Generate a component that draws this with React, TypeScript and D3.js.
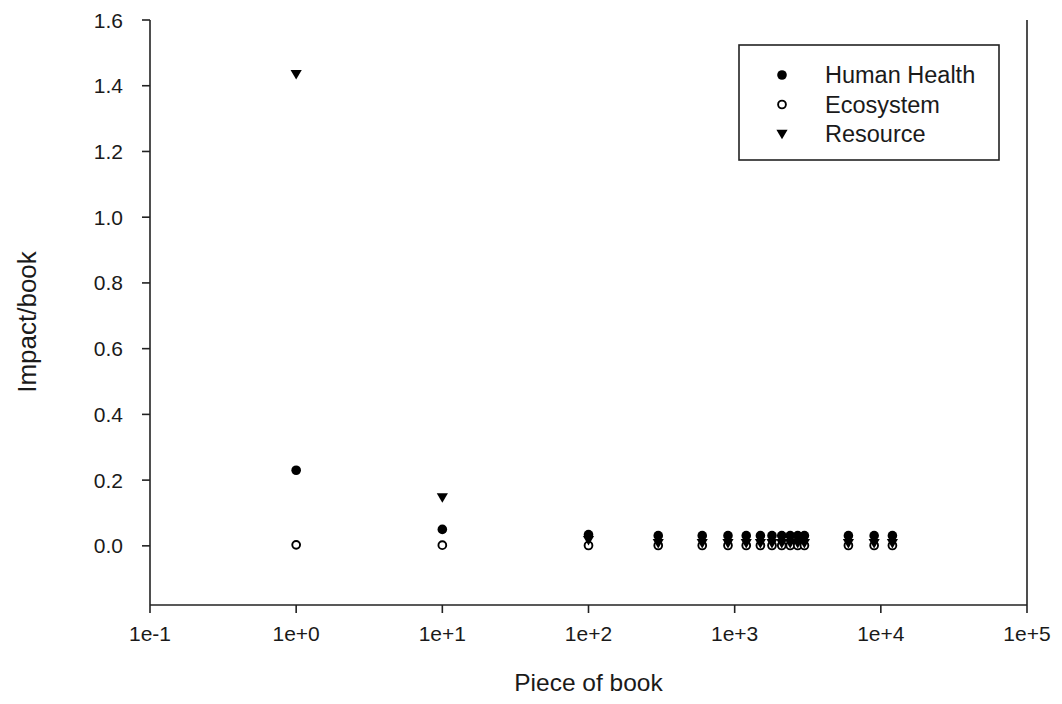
import React from "react";
import * as d3 from "d3";

const pieces = [1, 10, 100, 300, 600, 900, 1200, 1500, 1800, 2100, 2400, 2700, 3000, 6000, 9000, 12000];
const humanHealth = [0.23, 0.05, 0.034, 0.031, 0.031, 0.031, 0.031, 0.031, 0.031, 0.031, 0.031, 0.031, 0.031, 0.031, 0.031, 0.031];
const ecosystem = [0.003, 0.002, 0.001, 0.001, 0.001, 0.001, 0.001, 0.001, 0.001, 0.001, 0.001, 0.001, 0.001, 0.001, 0.001, 0.001];
const resource = [1.435, 0.147, 0.017, 0.008, 0.008, 0.008, 0.008, 0.008, 0.008, 0.008, 0.008, 0.008, 0.008, 0.008, 0.008, 0.008];
const xTicks = [1e-1, 1e0, 1e1, 1e2, 1e3, 1e4, 1e5];
const xTickLabels = ["1e-1", "1e+0", "1e+1", "1e+2", "1e+3", "1e+4", "1e+5"];
const yTicks = [0, 0.2, 0.4, 0.6, 0.8, 1.0, 1.2, 1.4, 1.6];
const seriesNames = ["Human Health", "Ecosystem", "Resource"];

const W = 1062, H = 704;
const L = 150, R = 1027, T = 20, B = 605;
const font = "'Liberation Sans', Arial, sans-serif";

function Marker({ kind, x, y }: { kind: number; x: number; y: number }) {
  if (kind === 0) return <circle cx={x} cy={y} r={4.8} fill="#000" />;
  if (kind === 1) return <circle cx={x} cy={y} r={3.9} fill="#fff" stroke="#000" strokeWidth={1.9} />;
  const s = 5.6;
  return <path d={`M${x - s},${y - s * 0.75} L${x + s},${y - s * 0.75} L${x},${y + s * 0.95} Z`} fill="#000" />;
}

export default function App() {
  const x = d3.scaleLog().domain([1e-1, 1e5]).range([L, R]);
  const y = d3.scaleLinear().domain([-0.18, 1.6]).range([B, T]);
  const series = [humanHealth, ecosystem, resource];
  const drawOrder = [1, 2, 0];
  return (
    <svg width={W} height={H} style={{ position: "absolute", left: 0, top: 0, background: "#fff" }} fontFamily={font}>
      <rect x={0} y={0} width={W} height={H} fill="#fff" />
      {/* axes */}
      <line x1={L} y1={T} x2={L} y2={B} stroke="#222" strokeWidth={1.6} />
      <line x1={L} y1={B} x2={R} y2={B} stroke="#222" strokeWidth={1.6} />
      <line x1={R} y1={T} x2={R} y2={B} stroke="#222" strokeWidth={1.6} />
      {yTicks.map((t) => (
        <g key={t}>
          <line x1={L - 8} x2={L} y1={y(t)} y2={y(t)} stroke="#222" strokeWidth={1.6} />
          <text x={L - 27} y={y(t)} dy="0.36em" textAnchor="end" fontSize={21} fill="#1a1a1a">
            {t.toFixed(1)}
          </text>
        </g>
      ))}
      {xTicks.map((t, i) => (
        <g key={t}>
          <line x1={x(t)} x2={x(t)} y1={B} y2={B + 8} stroke="#222" strokeWidth={1.6} />
          <text x={x(t)} y={B + 36} textAnchor="middle" fontSize={21} fill="#1a1a1a">
            {xTickLabels[i]}
          </text>
        </g>
      ))}
      <text x={(L + R) / 2} y={691} textAnchor="middle" fontSize={24.5} fill="#1a1a1a">
        Piece of book
      </text>
      <text transform={`translate(36,322) rotate(-90)`} textAnchor="middle" fontSize={26} fill="#1a1a1a">
        Impact/book
      </text>
      {/* points */}
      {drawOrder.map((k) =>
        pieces.map((p, i) => <Marker key={`${k}-${i}`} kind={k} x={x(p)} y={y(series[k][i])} />)
      )}
      {/* legend */}
      <rect x={739} y={45} width={260} height={115} fill="#fff" stroke="#222" strokeWidth={1.6} />
      {seriesNames.map((n, i) => (
        <g key={n}>
          <Marker kind={i} x={782} y={75 + i * 29.5} />
          <text x={825} y={75 + i * 29.5} dy="0.36em" fontSize={23.5} fill="#1a1a1a">
            {n}
          </text>
        </g>
      ))}
    </svg>
  );
}
